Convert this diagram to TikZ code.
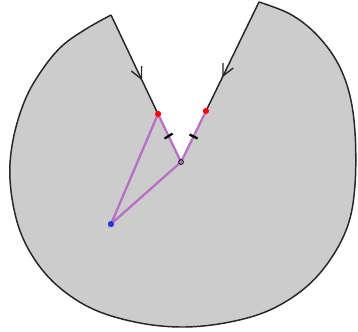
\documentclass[tikz,border=0pt]{standalone}
\usetikzlibrary{decorations.markings,arrows.meta,calc}

\definecolor{cutpurple}{RGB}{183,112,196}
\definecolor{basedot}{RGB}{30,60,220}

\begin{document}
\begin{tikzpicture}[x=0.75pt, y=-0.75pt]
    \tikzstyle{edge} = [draw=black!85, line width=1.1pt, line join=round]
    \tikzstyle{cut} = [draw=cutpurple, line width=1.7pt, line cap=round]
    \tikzstyle{dot} = [circle, inner sep=0pt, minimum size=4.5pt]
    \tikzstyle{tick} = [black, line width=1.7pt]
    \tikzstyle{midarrow} = [postaction={decorate}, decoration={markings, mark=at position #1 with {\arrow{Straight Barb[length=3mm, width=3mm, line width=1pt]}}}]

    \useasboundingbox (0,0) rectangle (358,332);

    % corners of the notch
    \coordinate (ltop) at (111,15);
    \coordinate (rtop) at (259,2);
    \node [dot, fill=red] (lred) at (158,114) {};
    \node [dot, fill=red] (rred) at (206,111) {};
    \coordinate (tip) at (181,162);

    % the region
    \fill [black!20] (ltop) -- (lred.center) -- (tip) -- (rred.center) -- (rtop)
        -- plot [smooth, tension=0.6] coordinates {(259,2) (290,14) (315,33) (336,60) (349,92) (355,132) (355,185) (348,225) (330,260) (305,288) (270,310) (230,322) (185,327) (140,323) (95,310) (60,288) (35,260) (18,225) (10,180) (13,140) (25,100) (42,70) (62,46) (86,29) (111,15)} -- cycle;
    \draw [edge] plot [smooth, tension=0.6] coordinates {(259,2) (290,14) (315,33) (336,60) (349,92) (355,132) (355,185) (348,225) (330,260) (305,288) (270,310) (230,322) (185,327) (140,323) (95,310) (60,288) (35,260) (18,225) (10,180) (13,140) (25,100) (42,70) (62,46) (86,29) (111,15)};
    \draw [edge, midarrow=0.66] (ltop) -- (lred.center);
    \draw [edge, midarrow=0.69] (rtop) -- (rred.center);

    % purple segments
    \node [dot, fill=basedot] (base) at (111,224) {};
    \draw [cut] (lred.center) -- (tip) -- (rred.center);
    \draw [cut] (lred.center) -- (base.center) -- (tip);
    \draw [black, line width=0.6pt] (tip) circle (1.8pt);
    \node [dot, fill=red] at (lred) {};
    \node [dot, fill=red] at (rred) {};
    \node [dot, fill=basedot] at (base) {};

    % equal-length marks
    \draw [tick] ($(lred)!0.46!(tip)$) ++(-4,2.5) -- ++(8,-5);
    \draw [tick] ($(rred)!0.5!(tip)$) ++(-4,-2) -- ++(8,4);
\end{tikzpicture}
\end{document}
